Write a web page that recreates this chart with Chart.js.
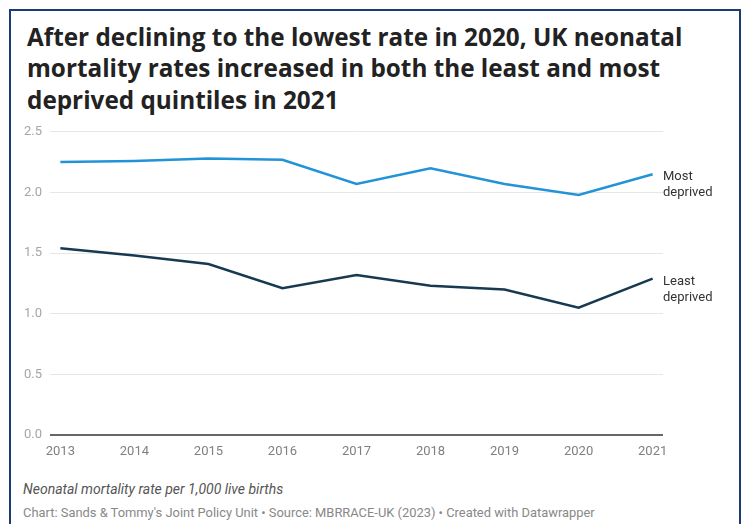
<!DOCTYPE html>
<html>
<head>
<meta charset="utf-8">
<script src="https://cdn.jsdelivr.net/npm/chart.js@4/dist/chart.umd.min.js"></script>
<style>
  html, body { margin: 0; padding: 0; background: #fff; }
  body { width: 744px; height: 524px; position: relative; overflow: hidden; }
  .frame {
    position: absolute; left: 9px; top: 9px; width: 728px; height: 540px;
    border: 2px solid #1c3d73; box-sizing: content-box;
  }
  .title {
    position: absolute; left: 27px; top: 21px;
    font-family: "Open Sans", sans-serif; font-weight: 700;
    font-size: 24.3px; line-height: 31.3px; color: #222;
    white-space: nowrap;
  }
  .chart-box { position: absolute; left: 0; top: 116px; width: 744px; height: 349px; }
  .note {
    position: absolute; left: 23px; top: 481px;
    font-family: Roboto, sans-serif; font-style: italic; font-size: 14px; color: #555;
  }
  .source {
    position: absolute; left: 23px; top: 505px;
    font-family: Roboto, sans-serif; font-size: 12.9px; color: #888;
  }
</style>
</head>
<body>
<div class="frame"></div>
<div class="title">After declining to the lowest rate in 2020, UK neonatal<br>mortality rates increased in both the least and most<br>deprived quintiles in 2021</div>
<div class="chart-box"><canvas id="mortalityChart"></canvas></div>
<div class="note">Neonatal mortality rate per 1,000 live births</div>
<div class="source">Chart: Sands &amp; Tommy's Joint Policy Unit • Source: MBRRACE-UK (2023) • Created with Datawrapper</div>

<script>
// neonatal mortality per 1,000 live births, by deprivation quintile
const years = [2013, 2014, 2015, 2016, 2017, 2018, 2019, 2020, 2021];
const mostDeprived = [2.25, 2.26, 2.28, 2.27, 2.07, 2.20, 2.07, 1.98, 2.15];
const leastDeprived = [1.54, 1.48, 1.41, 1.21, 1.32, 1.23, 1.20, 1.05, 1.29];
const seriesNames = [['Most', 'deprived'], ['Least', 'deprived']];
const yTicks = [0, 0.5, 1, 1.5, 2, 2.5];

function toPoints(values) {
    return values.map((v, i) => ({ x: years[i], y: v }));
}

// labels drawn just right of each line's last point
const endLabels = {
    id: 'endLabels',
    afterDatasetsDraw(chart) {
        const ctx = chart.ctx;
        const right = chart.chartArea.right;
        ctx.save();
        ctx.font = '13px Roboto, sans-serif';
        ctx.fillStyle = '#333';
        ctx.textBaseline = 'middle';
        ctx.textAlign = 'left';
        chart.data.datasets.forEach((ds, i) => {
            const pts = chart.getDatasetMeta(i).data;
            const last = pts[pts.length - 1];
            seriesNames[i].forEach((txt, k) => {
                ctx.fillText(txt, right, last.y + 3 + k * 16);
            });
        });
        ctx.restore();
    }
};

const ctx = document.getElementById('mortalityChart').getContext('2d');
new Chart(ctx, {
    type: 'line',
    data: {
        datasets: [
            {
                label: 'Most deprived',
                data: toPoints(mostDeprived),
                borderColor: '#2393d8',
                borderWidth: 2.5,
                pointRadius: 0,
                tension: 0
            },
            {
                label: 'Least deprived',
                data: toPoints(leastDeprived),
                borderColor: '#173a52',
                borderWidth: 2.5,
                pointRadius: 0,
                tension: 0
            }
        ]
    },
    options: {
        responsive: true,
        maintainAspectRatio: false,
        animation: false,
        layout: { padding: { top: 7, right: 81, left: 0, bottom: 0 } },
        plugins: {
            legend: { display: false },
            tooltip: { enabled: false }
        },
        scales: {
            x: {
                type: 'linear',
                min: years[0] - 0.14,
                max: years[years.length - 1] + 0.14,
                afterBuildTicks: scale => { scale.ticks = years.map(v => ({ value: v })); },
                afterFit: scale => { scale.height = 30; },
                grid: { display: false },
                border: { display: false },
                ticks: {
                    padding: 1,
                    color: '#808080',
                    font: { family: 'Roboto', size: 13 },
                    callback: v => String(v),
                    maxRotation: 0,
                    autoSkip: false
                }
            },
            y: {
                min: 0,
                max: 2.5,
                afterBuildTicks: scale => { scale.ticks = yTicks.map(v => ({ value: v })); },
                afterFit: scale => { scale.width = 50; },
                border: { display: false },
                grid: {
                    drawTicks: false,
                    color: c => c.tick.value === 0 ? '#666' : '#e6e6e6',
                    lineWidth: c => c.tick.value === 0 ? 2 : 1
                },
                ticks: {
                    padding: 8,
                    color: '#a6a6a6',
                    font: { family: 'Roboto', size: 13 },
                    callback: v => Number(v).toFixed(1)
                }
            }
        }
    },
    plugins: [endLabels]
});
</script>
</body>
</html>
